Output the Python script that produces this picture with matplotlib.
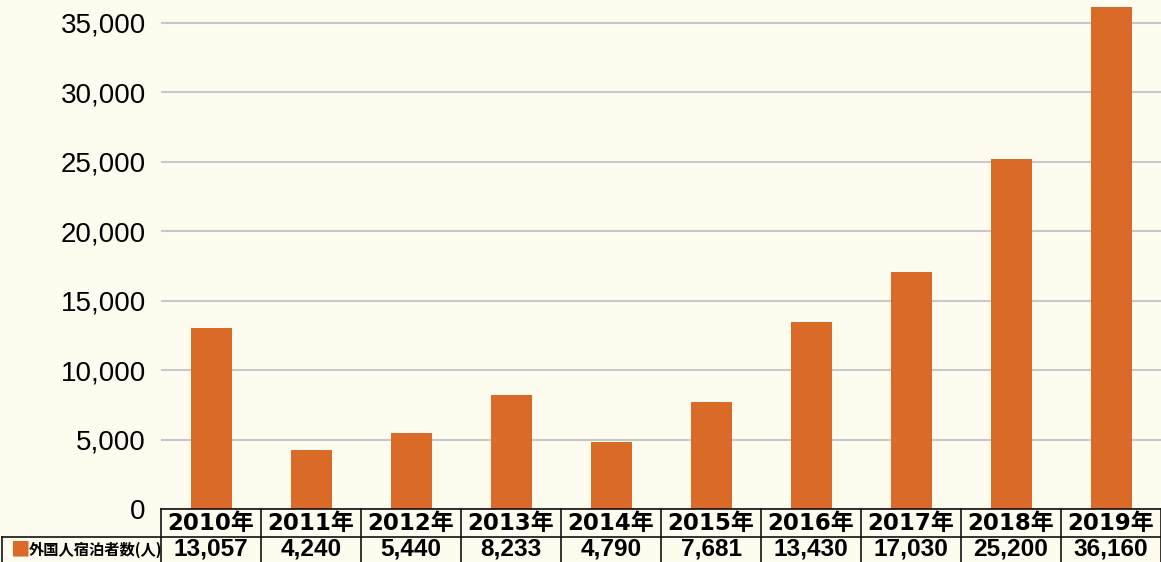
import matplotlib
matplotlib.use('Agg')
from matplotlib import pyplot as plt
from matplotlib.lines import Line2D
import matplotlib.transforms as mtransforms

years = ['2010年', '2011年', '2012年', '2013年', '2014年',
         '2015年', '2016年', '2017年', '2018年', '2019年']
guests = [13057, 4240, 5440, 8233, 4790, 7681, 13430, 17030, 25200, 36160]
guest_labels = ['13,057', '4,240', '5,440', '8,233', '4,790',
                '7,681', '13,430', '17,030', '25,200', '36,160']
series_name = '外国人宿泊者数(人)'
y_ticks = [0, 5000, 10000, 15000, 20000, 25000, 30000, 35000]

bg = '#FEFCEF'
bar_color = '#D96A27'
jp_font = ['Noto Sans CJK JP', 'DejaVu Sans']

W, H = 1161, 562
fig = plt.figure(figsize=(W / 100, H / 100), dpi=100, facecolor=bg)
ax = fig.add_axes([161 / W, 53 / H, 1000 / W, 509 / H])
ax.set_facecolor(bg)

x = list(range(len(years)))
ax.bar(x, guests, width=0.41, color=bar_color, zorder=3)
ax.set_xlim(-0.5, len(years) - 0.5)
ax.set_ylim(0, 36630)

ax.set_yticks(y_ticks)
ax.set_yticklabels(['{:,}'.format(v) for v in y_ticks], fontsize=20,
                   family='Liberation Sans')
ax.yaxis.grid(True, color='#C8C8C8', linewidth=1.5, zorder=0)
ax.tick_params(axis='y', length=0, pad=11)
ax.tick_params(axis='x', length=0, labelbottom=False)
for s in ax.spines.values():
    s.set_visible(False)

# table under the bars
trans = mtransforms.blended_transform_factory(ax.transData, fig.transFigure)
for i in x:
    ax.text(i, 1 - 523.5 / H, years[i], transform=trans, ha='center', va='center',
            fontsize=16.5, fontweight='bold', family=['DejaVu Sans', 'Noto Sans CJK JP'],
            clip_on=False)
    ax.text(i, 1 - 549 / H, guest_labels[i], transform=trans, ha='center', va='center',
            fontsize=17.6, fontweight='bold', family='Liberation Sans', clip_on=False)

lc = '#111111'
lw = 1.2
fig.add_artist(Line2D([161 / W, 1], [1 - 509 / H, 1 - 509 / H], color=lc, lw=lw))
fig.add_artist(Line2D([2 / W, 1], [1 - 537 / H, 1 - 537 / H], color=lc, lw=lw))
fig.add_artist(Line2D([2 / W, 2 / W], [0, 1 - 537 / H], color=lc, lw=lw))
for i in range(len(years) + 1):
    xf = (161 + 100 * i) / W
    if i == len(years):
        xf = 1 - 0.5 / W
    fig.add_artist(Line2D([xf, xf], [0, 1 - 509 / H], color=lc, lw=lw))

# series label in the first column
fig.text(10 / W, 1 - 550 / H, '■', color=bar_color, fontsize=14,
         va='center', ha='left', family=jp_font)
fig.text(29 / W, 1 - 550 / H, series_name, fontsize=11, fontweight='bold',
         va='center', ha='left', family=jp_font)

fig.savefig('out.png', dpi=100, facecolor=bg)
